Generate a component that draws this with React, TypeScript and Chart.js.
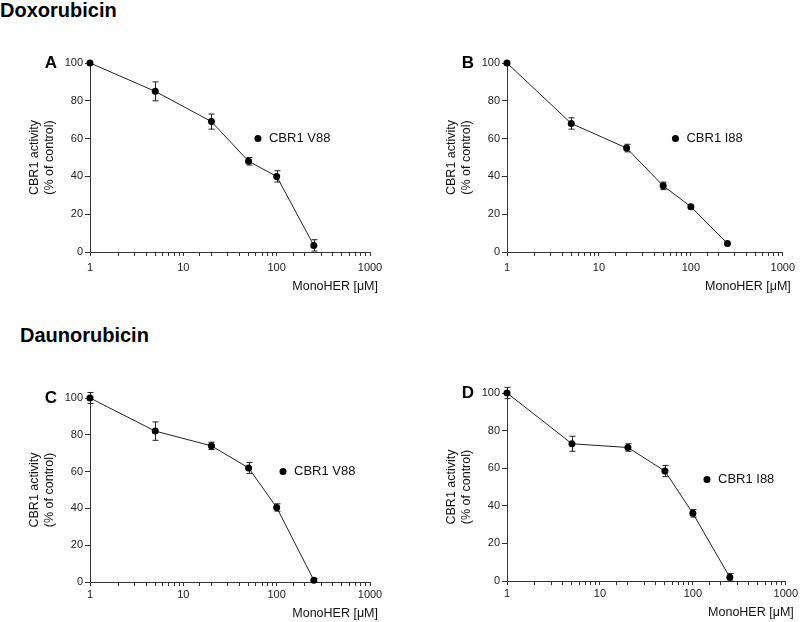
import React, { useEffect, useRef } from "react";
import { Chart, registerables } from "chart.js";
Chart.register(...registerables);

const FONT = "'Liberation Sans', Arial, Helvetica, sans-serif";

// MonoHER concentrations (µM)
const concentrations = [1, 5, 20, 50, 100, 250];

// Doxorubicin
const doxV88 = [100, 85, 69, 48, 40, 3.5];
const doxV88Err = [0, 5, 4, 2, 3, 3];
const doxI88 = [100, 68, 55, 35, 24, 4.5];
const doxI88Err = [0, 3, 2, 2, 0, 0];

// Daunorubicin
const daunV88 = [100, 82, 74, 62, 40.5, 1];
const daunV88Err = [3, 5, 2, 3, 2, 1];
const daunI88 = [100, 73, 71, 58.5, 36, 2];
const daunI88Err = [3, 4, 2, 3, 2, 2];

const xTickLabels = ["1", "10", "100", "1000"];
const yTickStep = 20;
const yMin = 0;
const yMax = 100;
const xMin = 1;
const xMax = 1000;

const yTitle = ["CBR1 activity", "(% of control)"];
const xTitle = "MonoHER [\u03BCM]";

type PanelCfg = {
  letter: string;
  series: string;
  y: number[];
  err: number[];
  legendX: number;
  legendY: number;
  left: number;
  top: number;
  width: number;
  height: number;
  padT: number;
  padR: number;
  axisW: number;
  xAxisH: number;
  xTickPad: number;
  xTitleGap: number;
};

const panels: PanelCfg[] = [
  { letter: "A", series: "CBR1 V88", y: doxV88, err: doxV88Err, legendX: 63, legendY: 60,
    left: 0, top: 0, width: 400, height: 300, padT: 63, padR: 30, axisW: 90, xAxisH: 48, xTickPad: 5, xTitleGap: 35 },
  { letter: "B", series: "CBR1 I88", y: doxI88, err: doxI88Err, legendX: 68, legendY: 60,
    left: 400, top: 0, width: 400, height: 300, padT: 63, padR: 13, axisW: 107, xAxisH: 48, xTickPad: 5, xTitleGap: 35 },
  { letter: "C", series: "CBR1 V88", y: daunV88, err: daunV88Err, legendX: 117, legendY: 60,
    left: 0, top: 311, width: 400, height: 311, padT: 87, padR: 30, axisW: 90, xAxisH: 40, xTickPad: 2, xTitleGap: 32 },
  { letter: "D", series: "CBR1 I88", y: daunI88, err: daunI88Err, legendX: 142, legendY: 54,
    left: 400, top: 311, width: 400, height: 311, padT: 82, padR: 13, axisW: 107, xAxisH: 41, xTickPad: 2, xTitleGap: 32 },
];

function makeDecor(p: PanelCfg) {
  return {
    id: "decor" + p.letter,
    beforeDatasetsDraw(chart: any) {
      const ctx = chart.ctx;
      const xs = chart.scales.x;
      const ys = chart.scales.y;
      ctx.save();
      ctx.strokeStyle = "#222";
      ctx.lineWidth = 1;
      concentrations.forEach((xv, i) => {
        const e = p.err[i];
        if (!e) return;
        const px = Math.round(xs.getPixelForValue(xv)) + 0.5;
        const t = ys.getPixelForValue(p.y[i] + e);
        const b = ys.getPixelForValue(p.y[i] - e);
        ctx.beginPath();
        ctx.moveTo(px, t);
        ctx.lineTo(px, b);
        ctx.moveTo(px - 3, t);
        ctx.lineTo(px + 3, t);
        ctx.moveTo(px - 3, b);
        ctx.lineTo(px + 3, b);
        ctx.stroke();
      });
      ctx.restore();
    },
    afterDraw(chart: any) {
      const ctx = chart.ctx;
      const a = chart.chartArea;
      const xs = chart.scales.x;
      const ys = chart.scales.y;
      ctx.save();
      // panel letter
      ctx.fillStyle = "#000";
      ctx.font = `bold 17px ${FONT}`;
      ctx.textAlign = "right";
      ctx.textBaseline = "middle";
      ctx.fillText(p.letter, a.left - 33, a.top);
      // legend
      const lx = xs.getPixelForValue(p.legendX);
      const ly = ys.getPixelForValue(p.legendY);
      ctx.beginPath();
      ctx.arc(lx, ly, 3.5, 0, Math.PI * 2);
      ctx.fill();
      ctx.font = `13px ${FONT}`;
      ctx.textAlign = "left";
      ctx.fillStyle = "#111";
      ctx.fillText(p.series, lx + 11, ly);
      // x title
      ctx.font = `12.5px ${FONT}`;
      ctx.textAlign = "right";
      ctx.fillText(xTitle, a.right + 8, a.bottom + p.xTitleGap);
      ctx.restore();
    },
  };
}

function PanelChart({ p }: { p: PanelCfg }) {
  const ref = useRef<HTMLCanvasElement | null>(null);
  useEffect(() => {
    if (!ref.current) return;
    const data = concentrations.map((x, i) => ({ x, y: p.y[i] }));
    const chart = new Chart(ref.current, {
      type: "line",
      data: {
        datasets: [
          {
            label: p.series,
            data,
            borderColor: "#222",
            borderWidth: 1,
            backgroundColor: "#000",
            pointBackgroundColor: "#000",
            pointBorderColor: "#000",
            pointRadius: 3.5,
            pointBorderWidth: 0,
            tension: 0,
            clip: false as any,
          },
        ],
      },
      options: {
        responsive: false,
        animation: false,
        events: [],
        layout: { padding: { left: 0, right: p.padR, top: p.padT, bottom: 0 } },
        plugins: { legend: { display: false }, tooltip: { enabled: false } },
        scales: {
          x: {
            type: "logarithmic",
            min: xMin,
            max: xMax,
            afterFit: (s: any) => { s.height = p.xAxisH; },
            grid: { drawOnChartArea: false, drawTicks: true, tickLength: 4, color: "#333", tickColor: "#333" },
            border: { display: true, color: "#333", width: 1 },
            ticks: {
              autoSkip: false,
              maxRotation: 0,
              padding: p.xTickPad,
              color: "#222",
              font: { family: FONT, size: 11 },
              callback: (v: any) => {
                const s = String(Number(v));
                return xTickLabels.includes(s) ? s : "";
              },
            },
          },
          y: {
            min: yMin,
            max: yMax,
            afterFit: (s: any) => { s.width = p.axisW; },
            grid: { drawOnChartArea: false, drawTicks: true, tickLength: 5, color: "#333", tickColor: "#333" },
            border: { display: true, color: "#333", width: 1 },
            ticks: {
              stepSize: yTickStep,
              padding: 2,
              color: "#222",
              font: { family: FONT, size: 11 },
            },
            title: {
              display: true,
              text: yTitle,
              color: "#111",
              font: { family: FONT, size: 12.5, lineHeight: 1.2 },
              padding: { top: p.axisW - 55 - 7.5, bottom: 0 },
            },
          },
        },
      } as any,
      plugins: [makeDecor(p)],
    });
    return () => chart.destroy();
  }, [p]);
  return (
    <canvas
      ref={ref}
      width={p.width}
      height={p.height}
      style={{ position: "absolute", left: p.left, top: p.top, width: p.width, height: p.height, display: "block" }}
    />
  );
}

export default function App() {
  const titleStyle: React.CSSProperties = {
    position: "absolute",
    fontFamily: FONT,
    fontWeight: "bold",
    fontSize: 20,
    lineHeight: "20px",
    color: "#000",
    margin: 0,
    whiteSpace: "nowrap",
  };
  return (
    <div style={{ position: "absolute", left: 0, top: 0, width: 800, height: 622, background: "#fff", overflow: "hidden" }}>
      <div style={{ ...titleStyle, left: 0, top: 0 }}>Doxorubicin</div>
      <div style={{ ...titleStyle, left: 20, top: 325 }}>Daunorubicin</div>
      {panels.map((p) => (
        <PanelChart key={p.letter} p={p} />
      ))}
    </div>
  );
}
